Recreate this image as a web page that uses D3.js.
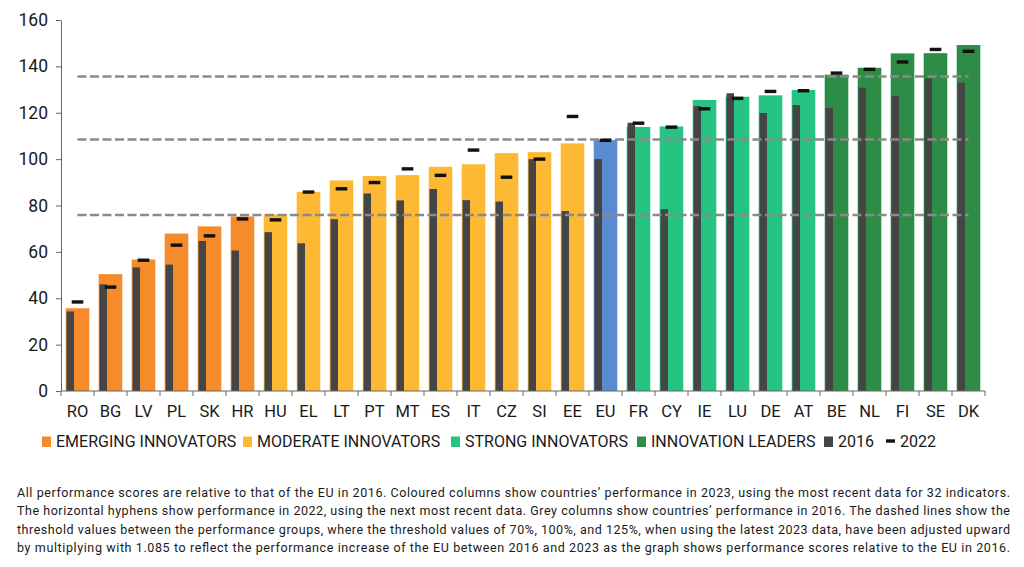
<!DOCTYPE html>
<html>
<head>
  <script src="https://d3js.org/d3.v7.min.js"></script>
  <style>
    body { margin: 0; background: #fff; }
    text { font-family: Roboto, "Noto Sans", sans-serif; fill: #1a1a1a; }
    .axis line, .axis path { stroke: #666; }
  </style>
</head>
<body>
  <script>
    // country codes, in chart order
    var countries = ["RO","BG","LV","PL","SK","HR","HU","EL","LT","PT","MT","ES","IT","CZ","SI","EE","EU","FR","CY","IE","LU","DE","AT","BE","NL","FI","SE","DK"];
    // performance group of each country
    var groups = ["E","E","E","E","E","E","M","M","M","M","M","M","M","M","M","M","EU","S","S","S","S","S","S","L","L","L","L","L"];
    // coloured columns: 2023
    var score2023 = [35.7,50.4,56.7,67.9,71.0,75.3,76.1,85.9,90.8,92.7,93.1,96.7,97.8,102.6,103.0,106.8,108.2,113.9,114.1,125.5,126.9,127.5,129.8,136.4,139.4,145.6,145.7,149.2];
    // grey columns: 2016
    var score2016 = [34.3,46.0,53.3,54.5,64.7,60.6,68.5,63.7,74.1,85.2,82.2,87.1,82.3,81.7,100.0,77.6,100.0,115.7,78.4,122.9,128.4,119.9,123.3,122.1,130.8,127.2,134.8,133.0];
    // hyphens: 2022
    var score2022 = [38.4,44.8,56.4,62.9,66.9,74.2,73.8,85.8,87.2,89.9,95.8,93.0,103.9,92.2,100.0,118.4,108.1,115.5,113.8,121.7,126.2,129.2,129.5,137.1,138.7,141.9,147.3,146.5];
    // thresholds 70%, 100%, 125% times 1.085
    var thresholds = [75.95, 108.5, 135.6];
    var yTicks = [0,20,40,60,80,100,120,140,160];

    var groupColor = { E: "#f68b2c", M: "#fdb934", EU: "#5a8bd0", S: "#25c482", L: "#2d8c45" };
    var legendItems = [
      { key: "E", label: "EMERGING INNOVATORS", x: 42 },
      { key: "M", label: "MODERATE INNOVATORS", x: 243 },
      { key: "S", label: "STRONG INNOVATORS", x: 451 },
      { key: "L", label: "INNOVATION LEADERS", x: 637 },
      { key: "g", label: "2016", x: 824 },
      { key: "h", label: "2022", x: 886 }
    ];
    var footnote = [
      "All performance scores are relative to that of the EU in 2016. Coloured columns show countries\u2019 performance in 2023, using the most recent data for 32 indicators.",
      "The horizontal hyphens show performance in 2022, using the next most recent data. Grey columns show countries\u2019 performance in 2016. The dashed lines show the",
      "threshold values between the performance groups, where the threshold values of 70%, 100%, and 125%, when using the latest 2023 data, have been adjusted upward",
      "by multiplying with 1.085 to reflect the performance increase of the EU between 2016 and 2023 as the graph shows performance scores relative to the EU in 2016."
    ];

    var W = 1024, H = 567;
    var mLeft = 61, mRight = 985, mTop = 20, mBottom = 391;

    var svg = d3.select("body").append("svg")
      .attr("width", W).attr("height", H);

    var x = d3.scaleBand().domain(countries).range([mLeft, mRight])
      .paddingInner(0.285).paddingOuter(0.1425);
    var y = d3.scaleLinear().domain([0, 160]).range([mBottom, mTop]);
    var bw = x.bandwidth();

    var rows = countries.map(function(c, i) {
      return { c: c, g: groups[i], v23: score2023[i], v16: score2016[i], v22: score2022[i] };
    });

    // coloured columns
    svg.append("g").selectAll("rect").data(rows).enter().append("rect")
      .attr("x", function(d) { return x(d.c); })
      .attr("y", function(d) { return y(d.v23); })
      .attr("width", bw)
      .attr("height", function(d) { return y(0) - y(d.v23); })
      .attr("fill", function(d) { return groupColor[d.g]; });

    // grey columns
    svg.append("g").selectAll("rect").data(rows).enter().append("rect")
      .attr("x", function(d) { return x(d.c) + 0.8; })
      .attr("y", function(d) { return y(d.v16); })
      .attr("width", 7.5)
      .attr("height", function(d) { return y(0) - y(d.v16); })
      .attr("fill", "#454545");

    // threshold lines
    svg.append("g").selectAll("line").data(thresholds).enter().append("line")
      .attr("x1", x(countries[0]) + bw / 2)
      .attr("x2", x(countries[countries.length - 1]) + bw / 2)
      .attr("y1", function(d) { return y(d); })
      .attr("y2", function(d) { return y(d); })
      .attr("stroke", "#8a8a8a")
      .attr("stroke-width", 2.5)
      .attr("stroke-dasharray", "9,3.5");

    // hyphens
    svg.append("g").selectAll("rect").data(rows).enter().append("rect")
      .attr("x", function(d) { return x(d.c) + bw / 2 - 5.8; })
      .attr("y", function(d) { return y(d.v22) - 1.7; })
      .attr("width", 11.6)
      .attr("height", 3.4)
      .attr("fill", "#111");

    // y axis
    var yAxis = svg.append("g").attr("class", "axis")
      .attr("transform", "translate(" + mLeft + ",0)")
      .call(d3.axisLeft(y).tickValues(yTicks).tickSize(5).tickPadding(8).tickSizeOuter(0));
    yAxis.selectAll("text").style("font-size", "17.5px").attr("fill", "#1a1a1a");

    // x axis
    var xAxis = svg.append("g").attr("class", "axis")
      .attr("transform", "translate(0," + mBottom + ")");
    xAxis.append("line").attr("x1", mLeft).attr("x2", mRight).attr("stroke", "#666");
    xAxis.selectAll(".tk").data(d3.range(countries.length + 1)).enter().append("line")
      .attr("x1", function(i) { return mLeft + i * x.step(); })
      .attr("x2", function(i) { return mLeft + i * x.step(); })
      .attr("y1", 0).attr("y2", 5).attr("stroke", "#666");
    xAxis.selectAll("text").data(countries).enter().append("text")
      .attr("x", function(d) { return x(d) + bw / 2; })
      .attr("y", 26)
      .attr("text-anchor", "middle")
      .style("font-size", "16.5px")
      .text(function(d) { return d; });

    // legend
    var lg = svg.append("g").attr("transform", "translate(0,441)");
    legendItems.forEach(function(it) {
      if (it.key === "h") {
        lg.append("rect").attr("x", it.x).attr("y", -1.7).attr("width", 9).attr("height", 3.4).attr("fill", "#111");
      } else {
        lg.append("rect").attr("x", it.x).attr("y", -4.5).attr("width", 9).attr("height", 10.5)
          .attr("fill", it.key === "g" ? "#454545" : groupColor[it.key]);
      }
      lg.append("text").attr("x", it.x + 14).attr("y", 6)
        .style("font-size", "16px")
        .text(it.label);
    });

    // footnote, justified
    svg.append("g").selectAll("text").data(footnote).enter().append("text")
      .attr("x", 17)
      .attr("y", function(d, i) { return 497 + i * 18.3; })
      .attr("textLength", 993)
      .attr("lengthAdjust", "spacing")
      .style("font-size", "12.5px")
      .attr("fill", "#333")
      .text(function(d) { return d; });
  </script>
</body>
</html>
